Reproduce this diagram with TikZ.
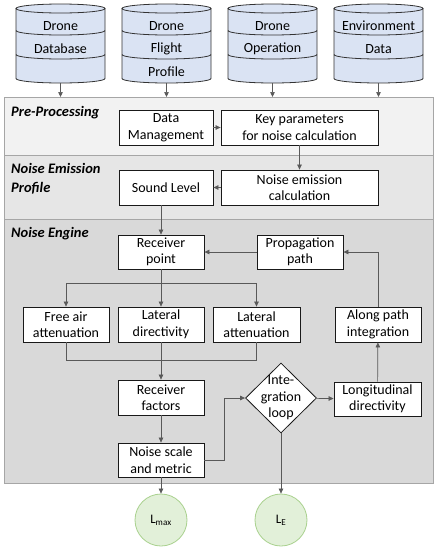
\documentclass[tikz,border=0pt]{standalone}
\usepackage{fontspec}
\setmainfont{Carlito}
\usepackage{xcolor}
\usepackage{tikz}
\usetikzlibrary{shapes.geometric, arrows.meta, positioning, calc}

\definecolor{dbblue}{HTML}{DAE3F3}
\definecolor{panelA}{HTML}{F2F2F2}
\definecolor{panelB}{HTML}{E6E6E6}
\definecolor{panelC}{HTML}{D9D9D9}
\definecolor{panelline}{HTML}{A6A6A6}
\definecolor{conngray}{HTML}{595959}
\definecolor{resgreen}{HTML}{E2F0D9}
\definecolor{resline}{HTML}{A9D18E}

\tikzset{
  boxfont/.style={font=\fontsize{14}{16.5}\selectfont},
  procbox/.style={boxfont, draw=black!90, fill=white, line width=0.8pt, align=center,
    inner sep=0pt, minimum width=86pt, minimum height=35pt},
  panel/.style={draw=panelline, line width=0.8pt, anchor=north west, minimum width=429pt, inner sep=0pt},
  seclabel/.style={font=\fontsize{14.5}{19}\selectfont\bfseries\itshape, align=left, anchor=west, inner sep=0pt},
  result/.style={circle, draw=resline, fill=resgreen, line width=0.8pt, minimum size=52pt, inner sep=0pt,
    font=\fontsize{13}{15}\selectfont},
  cylline/.style={draw=black!80, line width=0.8pt},
  conn/.style={draw=conngray, line width=0.7pt},
  arr/.style={conn, -{Triangle[length=5pt,width=4.5pt]}},
  pics/dbcyl/.style n args={3}{code={
    \path[fill=dbblue] (-44.5,8.5) -- (-44.5,78.5)
      arc[start angle=180, end angle=0, x radius=44.5, y radius=4.5] -- (44.5,8.5) -- cycle;
    \draw[cylline, fill=dbblue] (0,8.5) ellipse[x radius=44.5, y radius=4.5];
    \draw[cylline] (-44.5,30.5) arc[start angle=180, end angle=0, x radius=44.5, y radius=4.5];
    \draw[cylline] (-44.5,54.5) arc[start angle=180, end angle=0, x radius=44.5, y radius=4.5];
    \draw[cylline] (-44.5,8.5) -- (-44.5,78.5)
      arc[start angle=180, end angle=0, x radius=44.5, y radius=4.5] -- (44.5,8.5);
    \node[boxfont] (-t1) at (0,26) {#1};
    \node[boxfont] (-t2) at (0,49) {#2};
    \node[boxfont] (-t3) at (0,72) {#3};
    \coordinate (-bot) at (0,83);
  }}
}

\begin{document}
\begin{tikzpicture}[x=1pt, y=-1pt]
  \fill[white] (0,0) rectangle (437,550);
  \useasboundingbox (0,0) rectangle (437,550);

  % Data sources
  \pic (db1) at (60.5,0) {dbcyl={Drone}{Database}{}};
  \pic (db2) at (166.5,0) {dbcyl={Drone}{Flight}{Profile}};
  \pic (db3) at (272.5,0) {dbcyl={Drone}{Operation}{}};
  \pic (db4) at (378.5,0) {dbcyl={Environment}{Data}{}};

  % Panels
  \node[panel, fill=panelA, minimum height=58pt] (pre) at (4,97) {};
  \node[panel, fill=panelB, minimum height=64pt] (nep) at (4,155) {};
  \node[panel, fill=panelC, minimum height=264pt] (eng) at (4,219) {};
  \node[seclabel] (lpre) at (11,113) {Pre-Processing};
  \node[seclabel] (lnep) at (11,179) {Noise Emission\\Profile};
  \node[seclabel] (leng) at (11,234) {Noise Engine};

  % Pre-Processing
  \node[procbox, minimum width=94pt] (dm) at (166,127.5) {Data\\Management};
  \node[procbox, minimum width=157pt] (kp) at (299.5,127.5) {Key parameters\\for noise calculation};

  % Noise emission profile
  \node[procbox, minimum width=157pt] (nec) at (299.5,187.5) {Noise emission\\calculation};
  \node[procbox, minimum width=94pt] (sl) at (166,187.5) {Sound Level};

  % Noise engine
  \node[procbox, minimum height=34pt] (rp) at (161,252) {Receiver\\point};
  \node[procbox, minimum height=34pt] (pp) at (300,252) {Propagation\\path};
  \node[procbox] (fa) at (66,324.5) {Free air\\attenuation};
  \node[procbox] (ld) at (161,324.5) {Lateral\\directivity};
  \node[procbox, minimum width=87pt] (la) at (256.5,324.5) {Lateral\\attenuation};
  \node[procbox] (ap) at (378,324.5) {Along path\\integration};
  \node[procbox] (rf) at (161,397.5) {Receiver\\factors};
  \node[procbox, minimum height=34pt] (nsm) at (161,460) {Noise scale\\and metric};
  \node[diamond, draw=black!90, fill=white, line width=0.8pt, minimum width=71pt, minimum height=70pt,
    inner sep=0pt] (loop) at (281,398) {};
  \node[boxfont, align=center] (looptxt) at (loop) {Inte-\\gration\\loop};
  \node[procbox, minimum width=87pt, minimum height=34pt] (lon) at (377.5,399) {Longitudinal\\directivity};

  % Results
  \node[result] (lmax) at (161,520) {L\textsubscript{max}};
  \node[result] (le) at (281,520) {L\textsubscript{E}};

  % Connectors
  \draw[arr] (db1-bot) -- (db1-bot |- pre.north);
  \draw[arr] (db2-bot) -- (db2-bot |- pre.north);
  \draw[arr] (db3-bot) -- (db3-bot |- pre.north);
  \draw[arr] (db4-bot) -- (db4-bot |- pre.north);
  \draw[arr] (dm) -- (kp);
  \draw[arr] (kp) -- (nec);
  \draw[arr] (nec) -- (sl);
  \draw[arr] (sl.south -| rp.north) -- (rp);
  \draw[arr] (pp) -- (rp);
  \draw[arr] (ap.north) |- (pp.east);
  \coordinate (split) at ($(rp.south)+(0,14)$);
  \coordinate (merge) at ($(ld.south)+(0,18)$);
  \draw[arr] (rp) -- (ld);
  \draw[arr] (split) -| (fa.north);
  \draw[arr] (split) -| (la.north);
  \draw[conn] (fa.south) |- (merge) -| (la.south);
  \draw[arr] (ld) -- (rf);
  \draw[arr] (rf) -- (nsm);
  \draw[arr] (nsm.east) -- ++(20,0) |- (loop.west);
  \draw[arr] (loop) -- (lon);
  \draw[arr] (lon) -- (ap);
  \draw[arr] (loop) -- (le);
  \draw[arr] (nsm) -- (lmax);
\end{tikzpicture}
\end{document}
